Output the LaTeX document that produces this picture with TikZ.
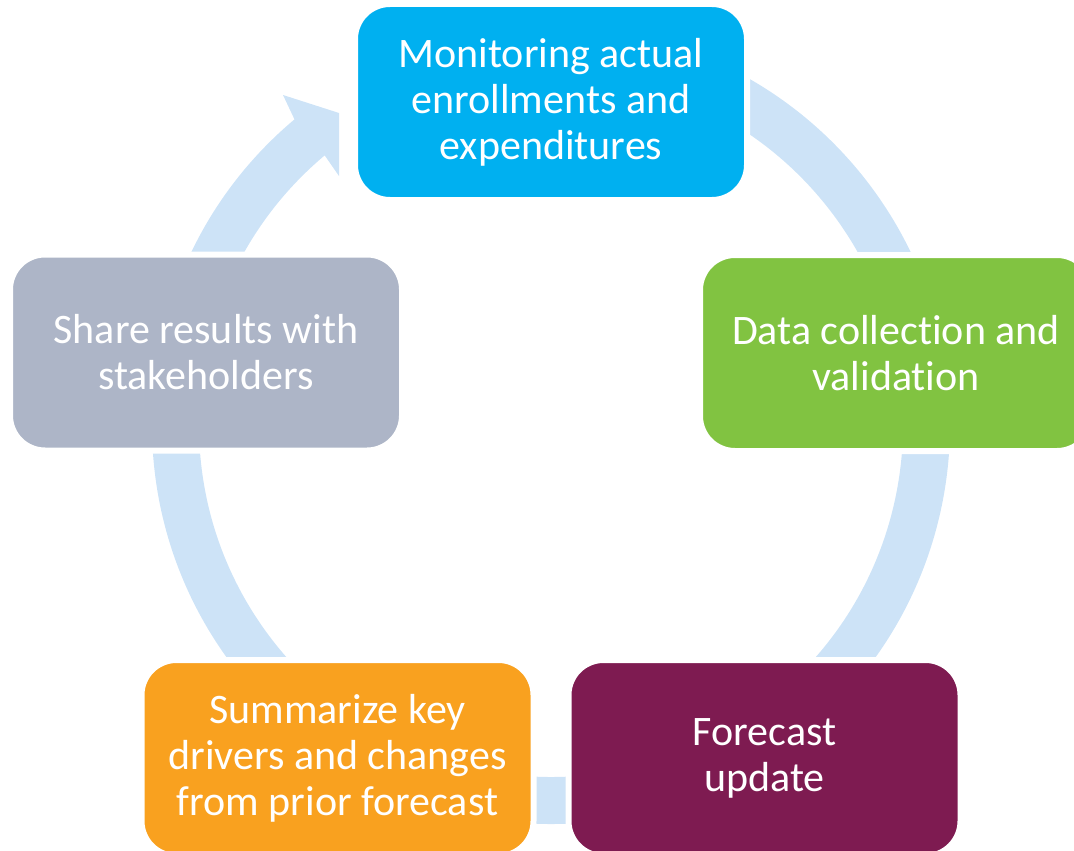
\documentclass[tikz,border=0pt]{standalone}
\usepackage{fontspec}
\setmainfont[RawFeature={-liga;-clig;-calt;-dlig}]{Carlito}
\usepackage{tikz}
\usepackage{xcolor}
\definecolor{ringblue}{HTML}{CDE3F7}
\definecolor{monblue}{HTML}{00B0F0}
\definecolor{datagreen}{HTML}{81C341}
\definecolor{fcmaroon}{HTML}{7E1B51}
\definecolor{sumorange}{HTML}{F9A11F}
\definecolor{sharegray}{HTML}{ADB5C7}
\newcommand{\ringrad}{375.5pt}
\tikzset{
	stagebox/.style={rectangle, rounded corners=35pt, draw=white, line width=6pt,
		minimum width=392pt, minimum height=196pt, inner sep=0pt, align=center,
		text=white, font=\fontsize{42}{46}\selectfont},
	ringband/.style={ringblue, line width=47pt}
}

\begin{document}
\begin{tikzpicture}[x=1pt,y=-1pt]
	\useasboundingbox (0,0) rectangle (1074,851);
	\coordinate (C) at (551,425);

	% ring and arrow head
	\draw[ringband] (C) ++(129:\ringrad) arc[start angle=129, end angle=450, radius=\ringrad];
	\fill[ringblue] (294.5,119.4) -- (283,95) -- (339,113) -- (339,176) -- (324.7,155.4) -- cycle;

	% stages
	\node[stagebox, fill=monblue] (monitor) at (551,102) {Monitoring actual\\enrollments and\\expenditures};
	\node[stagebox, fill=datagreen] (data) at (896,353) {Data collection and\\validation};
	\node[stagebox, fill=fcmaroon] (forecast) at (764.5,758) {Forecast\\update};
	\node[stagebox, fill=sumorange] (summary) at (337.5,758) {Summarize key\\drivers and changes\\from prior forecast};
	\node[stagebox, fill=sharegray] (share) at (206,352.5) {Share results with\\stakeholders};
\end{tikzpicture}
\end{document}
